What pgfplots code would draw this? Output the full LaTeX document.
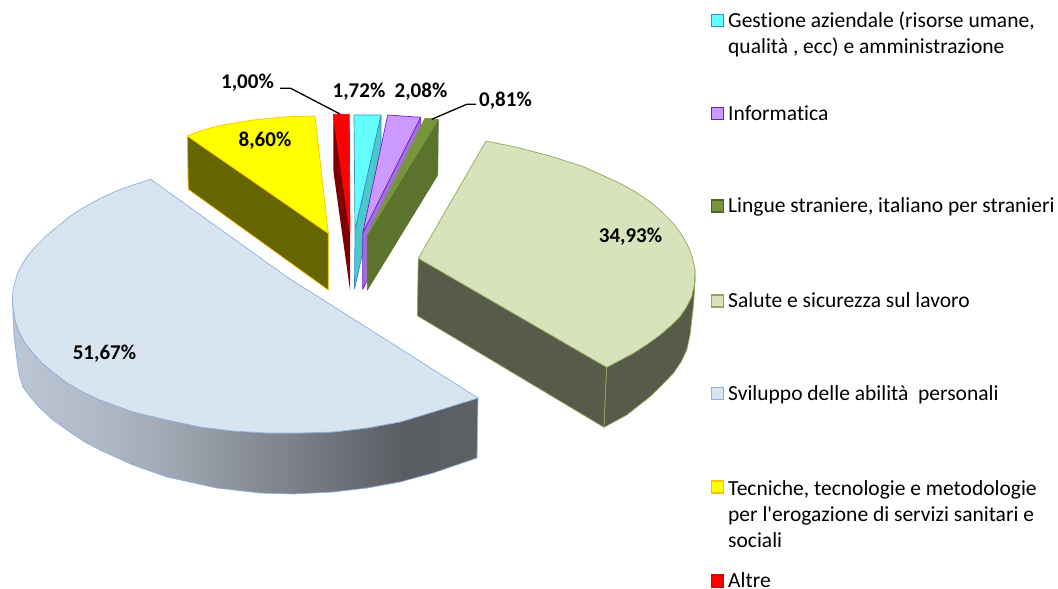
\documentclass[border=0pt]{standalone}
\usepackage{fontspec}
\setmainfont{Carlito}
\newfontfamily\calfont{Carlito}[Ligatures=NoCommon]
\usepackage{xcolor}
\usepackage{pgfplots}
\pgfplotsset{compat=1.18}
\definecolor{bluetop}{HTML}{D9E4F1}
\definecolor{blueline}{HTML}{8DB0DC}
\definecolor{sagetop}{HTML}{D8E3BC}
\definecolor{sageside}{HTML}{585B49}
\definecolor{sageline}{HTML}{8FA85C}
\definecolor{oliveside}{HTML}{666600}
\definecolor{ytop}{RGB}{255,255,0}
\definecolor{yline}{HTML}{FFC000}
\definecolor{redside}{HTML}{7F0000}
\definecolor{cyantop}{HTML}{66FFFF}
\definecolor{cyanside}{HTML}{4BC8C8}
\definecolor{cyanline}{HTML}{2E8FD0}
\definecolor{purptop}{HTML}{CC99FF}
\definecolor{purpside}{HTML}{A070D8}
\definecolor{purpline}{HTML}{7020D0}
\definecolor{greentop}{HTML}{77963C}
\definecolor{greenside}{HTML}{5C732D}
\definecolor{greenline}{HTML}{4F6228}
\definecolor{grada}{HTML}{BCC6D4}
\definecolor{gradb}{HTML}{B0B9C6}
\definecolor{gradc}{HTML}{9FA8B2}
\definecolor{gradd}{HTML}{7A7E88}
\definecolor{grade}{HTML}{5A5D62}
\definecolor{gradf}{HTML}{5D6065}
\pgfdeclarehorizontalshading{blueside}{100bp}{
  color(0bp)=(grada); color(25bp)=(grada); color(34bp)=(gradb); color(42bp)=(gradc);
  color(56bp)=(gradd); color(67bp)=(grade); color(75bp)=(gradf); color(100bp)=(gradf)}
\newcommand{\lab}{\calfont\fontsize{21}{24}\selectfont\bfseries}
\newcommand{\leg}{\calfont\fontsize{21.5}{26}\selectfont}
\begin{document}
\begin{tikzpicture}
\useasboundingbox (0,0) rectangle (1058pt,589pt);
\begin{axis}[
  at={(0,0)}, anchor=south west,
  scale only axis, width=1058pt, height=589pt,
  xmin=0, xmax=1058, ymin=0, ymax=589, y dir=reverse,
  hide axis, clip=false,
  slice/.style={mark=none, line width=0.7pt, line join=round},
  swatch/.style={only marks, mark=square*, mark size=6pt},
]
% yellow
\addplot[slice, fill=oliveside, draw=yline] coordinates {
  (187.3,136)(328.3,233.3)(328.3,290)(188.3,189.3)(187.3,136)};
\addplot[slice, fill=ytop, draw=yline] coordinates {
  (187.3,136)(203,130)(220,125.5)(253,120)(287,116.7)(315,116)(328.3,233.3)(187.3,136)};
% red
\addplot[slice, fill=redside, draw=none] coordinates {
  (333.3,114.3)(350,233)(350,290)(333.5,172)(333.3,114.3)};
\addplot[slice, fill=red, draw=red] coordinates {
  (333.3,114.3)(349.3,114.3)(350,233)(333.3,114.3)};
% cyan
\addplot[slice, fill=cyanside, draw=cyanline] coordinates {
  (381,115)(355,230)(354.5,289)(381,172)(381,115)};
\addplot[slice, fill=cyantop, draw=cyanline] coordinates {
  (354,115)(381,115)(355,230)(354,115)};
% purple
\addplot[slice, fill=purpside, draw=purpline] coordinates {
  (420.7,117.3)(362.7,233.3)(362.7,289.3)(420.7,175)(420.7,117.3)};
\addplot[slice, fill=purptop, draw=purpline] coordinates {
  (387.7,115)(420.7,117.3)(362.7,233.3)(387.7,115)};
% green
\addplot[slice, fill=greenside, draw=greenside] coordinates {
  (438.3,119.3)(367.3,235)(367.3,290)(437.7,175)(438.3,119.3)};
\addplot[slice, fill=greentop, draw=greentop] coordinates {
  (425,118.3)(438.3,119.3)(367.3,235)(425,118.3)};
% sage, large slice
\addplot[slice, fill=sageside, draw=sageline] coordinates {
  (418.3,258.3)(606.7,367.3)(604,427.3)(417.3,315.7)(418.3,258.3)};
\addplot[slice, fill=sageside, draw=sageline] coordinates {
  (606.7,367.3)(633.3,353.3)(660,335)(680,316.7)(691.7,296.7)(695,270)
  (695,282)(693.5,305)(691.7,320)(690,335)(686.7,350)(681,362)(673.3,373.3)(662,385)(650,396.7)(626.7,415)(604,427.3)(606.7,367.3)};
\addplot[slice, fill=sagetop, draw=sageline] coordinates {
  (486,141)(516.7,147.3)(550,156)(583.3,166.7)(616.7,181.7)(634,191)(650,201.7)(662,212)(673.3,223.3)
  (681.5,234.5)(688.3,246.7)(692.5,258)(695,270)(694.5,284)(691.7,296.7)(686.5,307)(680,316.7)(670.5,326)(660,335)(647,344.5)(633.3,353.3)(606.7,367.3)
  (418.3,258.3)(486,141)};
% light blue, large slice
\addplot[slice, draw=blueline, shade, shading=blueside] coordinates {
  (12.5,297)(13,308)(15,320)(19,332)(25,343)(33,353)(42,363)(54,373)(67,383)(83,392)(100,400)(133,412)(167,420)(200,427)
  (233,431)(267,433)(300,433)(333,432)(367,428)(400,422)(433,412)(478,398)
  (477,458)(433,473)(400,482)(367,488)(333,492)(293,494)(260,493)(217,488)
  (167,477)(133,465)(100,450)(83,441)(67,430)(53,420)(40,408)(31,398)(23,387)(19,374)(17,360)(14,335)(13,313)(12.5,297)};
\addplot[slice, fill=bluetop, draw=blueline] coordinates {
  (150.7,179.3)(133,185)(117,190.7)(100,198.5)(83,208)(69,217)(57,227)(46,236)(37,245)(29,254)(23,263)(18,272)(15,282)(13,290)(12.5,297)
  (13,308)(15,320)(19,332)(25,343)(33,353)(42,363)(54,373)(67,383)(83,392)(100,400)(133,412)(167,420)(200,427)
  (233,431)(267,433)(300,433)(333,432)(367,428)(400,422)(433,412)(478,398)
  (287,277)(150.7,179.3)};
% leader lines
\addplot[mark=none, black, line width=1.3pt] coordinates {(280,88.3)(290.7,88.3)(340,114)};
\addplot[mark=none, black, line width=1.3pt] coordinates {(431.7,119.3)(466.7,104.3)(476,104.3)};
% legend swatches
\addplot[swatch, mark options={draw=cyanline, fill=cyantop, line width=1.3pt}] coordinates {(717.5,20.5)};
\addplot[swatch, mark options={draw=purpline, fill=purptop, line width=1.3pt}] coordinates {(717.5,113.5)};
\addplot[swatch, mark options={draw=greenline, fill=greentop, line width=1.3pt}] coordinates {(717.5,206)};
\addplot[swatch, mark options={draw=sageline, fill=sagetop, line width=1.3pt}] coordinates {(717.5,301)};
\addplot[swatch, mark options={draw=blueline, fill=bluetop, line width=1.3pt}] coordinates {(717.5,393.5)};
\addplot[swatch, mark options={draw=yline, fill=ytop, line width=1.3pt}] coordinates {(717.5,487)};
\addplot[swatch, mark options={draw=red!85!black, fill=red, line width=1.3pt}] coordinates {(717.5,581)};
% value labels
\node[font=\lab, inner sep=0pt] at (axis cs:247.5,83) {1,00\%};
\node[font=\lab, inner sep=0pt] at (axis cs:359,91.5) {1,72\%};
\node[font=\lab, inner sep=0pt] at (axis cs:421,91.5) {2,08\%};
\node[font=\lab, inner sep=0pt] at (axis cs:505.5,100.5) {0,81\%};
\node[font=\lab, inner sep=0pt] at (axis cs:265,140.5) {8,60\%};
\node[font=\lab, inner sep=0pt] at (axis cs:630.5,236.5) {34,93\%};
\node[font=\lab, inner sep=0pt] at (axis cs:104.5,354) {51,67\%};
% legend text
\node[font=\leg, anchor=north west, align=left, inner sep=0pt] at (axis cs:728,12) {Gestione aziendale (risorse umane,\\qualità , ecc) e amministrazione};
\node[font=\leg, anchor=north west, align=left, inner sep=0pt] at (axis cs:728,106) {Informatica};
\node[font=\leg, anchor=north west, align=left, inner sep=0pt] at (axis cs:728,197) {Lingue straniere, italiano per stranieri};
\node[font=\leg, anchor=north west, align=left, inner sep=0pt] at (axis cs:728,292) {Salute e sicurezza sul lavoro};
\node[font=\leg, anchor=north west, align=left, inner sep=0pt] at (axis cs:728,385) {Sviluppo delle abilità\ \ personali};
\node[font=\leg, anchor=north west, align=left, inner sep=0pt] at (axis cs:728,480) {Tecniche, tecnologie e metodologie\\per l'erogazione di servizi sanitari e\\sociali};
\node[font=\leg, anchor=north west, align=left, inner sep=0pt] at (axis cs:728,572) {Altre};
\end{axis}
\end{tikzpicture}
\end{document}
